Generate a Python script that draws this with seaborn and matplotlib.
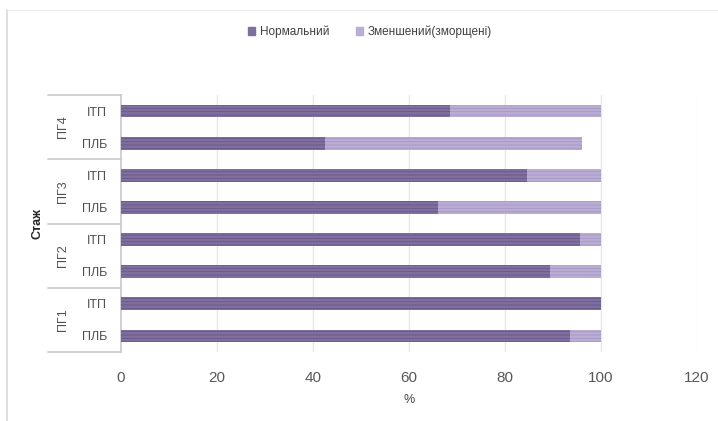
import matplotlib
matplotlib.use("Agg")
import matplotlib.pyplot as plt
import seaborn as sns
import pandas as pd
from matplotlib.lines import Line2D
from matplotlib.patches import Patch
from matplotlib.transforms import blended_transform_factory

groups = ["ПГ4", "ПГ4", "ПГ3", "ПГ3", "ПГ2", "ПГ2", "ПГ1", "ПГ1"]
subcats = ["ІТП", "ПЛБ", "ІТП", "ПЛБ", "ІТП", "ПЛБ", "ІТП", "ПЛБ"]
normal = [68.5, 42.5, 84.6, 66.0, 95.6, 89.4, 100.0, 93.5]
reduced = [31.5, 53.5, 15.4, 34.0, 4.4, 10.6, 0.0, 6.5]
series_names = ["Нормальний", "Зменшений(зморщені)"]
xticks = [0, 20, 40, 60, 80, 100, 120]

sns.set_theme(style="white")
plt.rcParams['font.family'] = ['Liberation Sans', 'DejaVu Sans']
plt.rcParams['hatch.linewidth'] = 0.6

df = pd.DataFrame({
    "key": [f"{g} {s}" for g, s in zip(groups, subcats)],
    "normal": normal,
    "total": [a + b for a, b in zip(normal, reduced)],
})

c_norm = "#7f6ea0"
c_red = "#b9add3"

fig = plt.figure(figsize=(7.18, 4.21), dpi=100)
ax = fig.add_axes([121/718, 1-352/421, 576/718, 257/421])

sns.barplot(data=df, y="key", x="total", orient="h", color=c_red, width=0.4,
            saturation=1, ax=ax, zorder=2)
n_first = len(ax.patches)
sns.barplot(data=df, y="key", x="normal", orient="h", color=c_norm, width=0.4,
            saturation=1, ax=ax, zorder=3)
for i, p in enumerate(ax.patches):
    p.set_linewidth(0)
    p.set_hatch("-----")
    p.set_edgecolor("#a597c6" if i < n_first else "#67578a")

ax.set_xlim(0, 120)
ax.set_ylim(7.5, -0.5)
ax.set_xticks(xticks)
ax.set_xticklabels([str(v) for v in xticks], fontsize=11, color="#595959")
ax.tick_params(axis="x", length=0, pad=14)
ax.set_yticks(range(len(subcats)))
ax.set_yticklabels(subcats, fontsize=9, color="#505050")
ax.tick_params(axis="y", length=0, pad=10)
ax.set_xlabel("%", fontsize=9, color="#404040", labelpad=6)
ax.set_ylabel("")
for v in xticks[1:]:
    ax.axvline(v, color="#e6e6e6", lw=0.9, zorder=0)
for s in ["top", "right", "bottom"]:
    ax.spines[s].set_visible(False)
ax.spines["left"].set_color("#c8c8c8")
ax.spines["left"].set_linewidth(1.2)

trans = blended_transform_factory(ax.transAxes, ax.transData)
for yb in [-0.5, 1.5, 3.5, 5.5, 7.5]:
    ax.add_line(Line2D([-0.127, 0], [yb, yb], transform=trans, color="#c8c8c8",
                       lw=1.2, clip_on=False))
for i, g in enumerate(["ПГ4", "ПГ3", "ПГ2", "ПГ1"]):
    ax.text(-0.1, 2*i + 0.5, g, transform=trans, rotation=90, ha="center",
            va="center", fontsize=9, color="#505050")
ax.text(-0.145, 3.5, "Стаж", transform=trans, rotation=90, ha="center",
        va="center", fontsize=9, fontweight="bold", color="#262626")

handles = [Patch(color=c_norm), Patch(color=c_red)]
fig.legend(handles, series_names, loc="center", bbox_to_anchor=(370/718, 1-32/421),
           ncol=2, frameon=False, fontsize=8.5, handlelength=0.6, handleheight=0.6,
           columnspacing=2.2, handletextpad=0.4, labelcolor="#404040")

fig.add_artist(Line2D([7/718, 7/718], [0, 1-10/421], transform=fig.transFigure,
                      color="#d9d9d9", lw=1.2))
fig.add_artist(Line2D([7/718, 1], [1-10/421, 1-10/421], transform=fig.transFigure,
                      color="#ececec", lw=1))

fig.savefig("out.png", dpi=100)
